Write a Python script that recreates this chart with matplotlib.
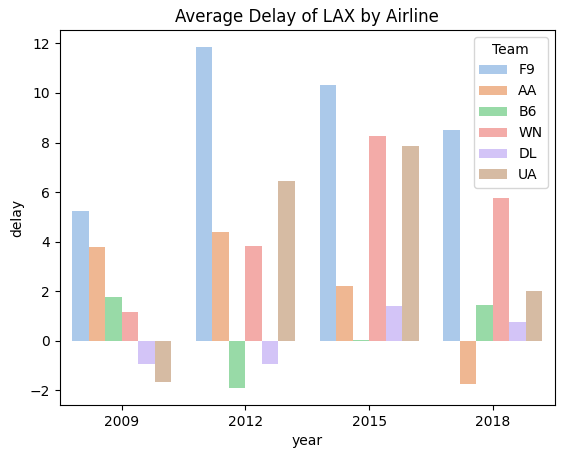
import matplotlib
matplotlib.use("Agg")
import matplotlib.pyplot as plt
import seaborn as sns
import pandas as pd

years = [2009, 2012, 2015, 2018]
teams = ["F9", "AA", "B6", "WN", "DL", "UA"]
delays = {
    "F9": [5.22, 11.85, 10.3, 8.5],
    "AA": [3.8, 4.4, 2.2, -1.75],
    "B6": [1.75, -1.9, 0.05, 1.45],
    "WN": [1.17, 3.83, 8.25, 5.75],
    "DL": [-0.95, -0.95, 1.42, 0.75],
    "UA": [-1.65, 6.45, 7.85, 2.0],
}

rows = [(y, t, delays[t][i]) for t in teams for i, y in enumerate(years)]
df = pd.DataFrame(rows, columns=["year", "Team", "delay"])

fig, ax = plt.subplots(figsize=(5.65, 4.55), dpi=100)
sns.barplot(data=df, x="year", y="delay", hue="Team", hue_order=teams,
            palette="pastel", ax=ax)
ax.set_title("Average Delay of LAX by Airline")
fig.subplots_adjust(left=0.106, right=0.982, top=0.934, bottom=0.11)
fig.savefig("out.png")
